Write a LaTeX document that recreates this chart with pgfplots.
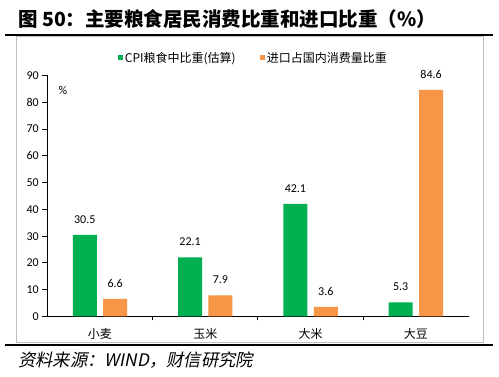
\documentclass[border=0pt]{standalone}
\usepackage{fontspec}
\setmainfont{Carlito}
\newfontfamily\cjk{Noto Sans CJK SC}
\newfontfamily\cjkit[FakeSlant=0.2]{Noto Sans CJK SC}
\usepackage{pgfplots}
\pgfplotsset{compat=1.18}
\definecolor{cgreen}{RGB}{0,176,80}
\definecolor{corange}{RGB}{247,150,70}
\begin{document}
\begin{tikzpicture}
\useasboundingbox (0pt,0pt) rectangle (499pt,377pt);
\fill[white] (0pt,0pt) rectangle (499pt,377pt);
% title
\node[anchor=base west,inner sep=0] at (18pt,350pt) {\cjk\bfseries\fontsize{19.5}{22}\selectfont 图 50：主要粮食居民消费比重和进口比重（\%）};
% frame
\draw[gray!50,line width=0.8pt] (16pt,34.5pt) rectangle (483pt,341pt);
\draw[black,line width=2.2pt] (5pt,342pt) -- (493pt,342pt);
\draw[black,line width=2.2pt] (5pt,32pt) -- (493pt,32pt);
% source
\node[anchor=base west,inner sep=0] at (18pt,10pt) {\cjkit\fontsize{17.3}{19}\selectfont 资料来源：WIND，财信研究院};
\begin{axis}[
  at={(47.3pt,60.5pt)}, anchor=south west,
  scale only axis, width=421.3pt, height=241pt,
  xmin=-0.5, xmax=3.5, ymin=0, ymax=90,
  axis x line=bottom, axis y line=left,
  axis line style={-,line width=1.3pt,black},
  ytick={0,10,...,90},
  xtick={0,1,2,3},
  xticklabels={小麦,玉米,大米,大豆},
  minor xtick={0.5,1.5,2.5},
  major x tick style={draw=none},
  minor tick length=4pt,
  major tick length=5pt,
  tick align=outside,
  tick style={black,line width=1pt},
  xticklabel style={font=\cjk\fontsize{12}{14}\selectfont, yshift=-3pt},
  yticklabel style={font=\fontsize{12}{14}\selectfont},
  /pgf/number format/assume math mode=true,
  ybar, bar width=24pt,
  nodes near coords,
  every node near coord/.append style={font=\fontsize{12}{14}\selectfont, yshift=8pt, /pgf/number format/fixed, /pgf/number format/precision=1, /pgf/number format/fixed zerofill},
  legend columns=2,
  legend style={at={(0.489,1.073)}, anchor=center, draw=none, fill=none,
    font=\cjk\fontsize{12}{14}\selectfont,
    /tikz/every even column/.append style={column sep=22pt}},
  legend image code/.code={\fill[#1] (0pt,-2.5pt) rectangle (5pt,2.5pt);},
  clip=false,
]
\addplot[fill=cgreen, draw=none, bar shift=-15.2pt] coordinates {(0,30.5) (1,22.1) (2,42.1) (3,5.3)};
\addplot[fill=corange, draw=none, bar shift=15.2pt] coordinates {(0,6.6) (1,7.9) (2,3.6) (3,84.6)};
\legend{CPI粮食中比重(估算),进口占国内消费量比重}
\end{axis}
\node[font=\fontsize{12}{14}\selectfont] at (63pt,287pt) {\%};
\end{tikzpicture}
\end{document}
